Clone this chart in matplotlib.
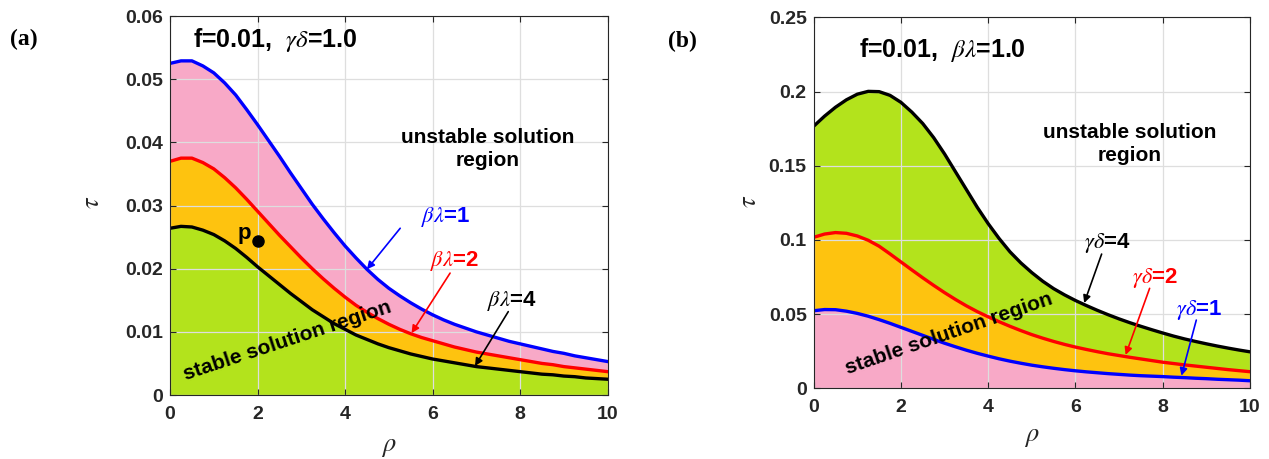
import matplotlib
matplotlib.use("Agg")
import matplotlib.pyplot as plt

plt.rcParams["font.family"] = ["Liberation Sans", "DejaVu Sans"]
plt.rcParams["mathtext.fontset"] = "stix"

# ---- data -------------------------------------------------------------
rho = [0.00, 0.25, 0.50, 0.75, 1.00, 1.25, 1.50, 1.75, 2.00, 2.25,
       2.50, 2.75, 3.00, 3.25, 3.50, 3.75, 4.00, 4.25, 4.50, 4.75,
       5.00, 5.25, 5.50, 5.75, 6.00, 6.25, 6.50, 6.75, 7.00, 7.25,
       7.50, 7.75, 8.00, 8.25, 8.50, 8.75, 9.00, 9.25, 9.50, 9.75, 10.00]

# panel (a): f=0.01, gamma*delta=1.0, varying beta*lambda
tau_a_bl1 = [0.0525, 0.0529, 0.0529, 0.0521, 0.0510, 0.0494, 0.0475, 0.0452,
             0.0428, 0.0403, 0.0378, 0.0352, 0.0327, 0.0302, 0.0279, 0.0257,
             0.0236, 0.0217, 0.0199, 0.0183, 0.0169, 0.0157, 0.0146, 0.0136,
             0.0127, 0.0119, 0.0112, 0.0106, 0.0100, 0.0095, 0.0090, 0.0085,
             0.0081, 0.0077, 0.0073, 0.0069, 0.0066, 0.0062, 0.0059, 0.0056,
             0.0053]
tau_a_bl2 = [0.0370, 0.0375, 0.0375, 0.0368, 0.0358, 0.0344, 0.0328, 0.0310,
             0.0291, 0.0272, 0.0253, 0.0235, 0.0217, 0.0200, 0.0184, 0.0169,
             0.0155, 0.0142, 0.0131, 0.0121, 0.0112, 0.0104, 0.0097, 0.0091,
             0.0086, 0.0081, 0.0076, 0.0072, 0.0068, 0.0065, 0.0062, 0.0059,
             0.0056, 0.0053, 0.0050, 0.0048, 0.0045, 0.0043, 0.0041, 0.0039,
             0.0037]
tau_a_bl4 = [0.0264, 0.0267, 0.0266, 0.0261, 0.0254, 0.0244, 0.0232, 0.0218,
             0.0203, 0.0189, 0.0175, 0.0161, 0.0148, 0.0135, 0.0124, 0.0113,
             0.0104, 0.0095, 0.0088, 0.0081, 0.0075, 0.0070, 0.0065, 0.0061,
             0.0057, 0.0054, 0.0051, 0.0048, 0.0045, 0.0043, 0.0041, 0.0039,
             0.0037, 0.0035, 0.0033, 0.0032, 0.0030, 0.0029, 0.0027, 0.0026,
             0.0025]

# panel (b): f=0.01, beta*lambda=1.0, varying gamma*delta
tau_b_gd1 = [0.0523, 0.0531, 0.0530, 0.0520, 0.0505, 0.0486, 0.0463, 0.0438,
             0.0411, 0.0384, 0.0357, 0.0330, 0.0304, 0.0280, 0.0257, 0.0236,
             0.0217, 0.0199, 0.0183, 0.0169, 0.0156, 0.0145, 0.0135, 0.0126,
             0.0118, 0.0111, 0.0105, 0.0099, 0.0094, 0.0089, 0.0085, 0.0082,
             0.0079, 0.0075, 0.0072, 0.0068, 0.0065, 0.0061, 0.0058, 0.0055,
             0.0051]
tau_b_gd2 = [0.1018, 0.1040, 0.1050, 0.1045, 0.1027, 0.0998, 0.0958, 0.0906,
             0.0852, 0.0798, 0.0745, 0.0694, 0.0645, 0.0599, 0.0556, 0.0517,
             0.0482, 0.0449, 0.0418, 0.0389, 0.0362, 0.0338, 0.0316, 0.0296,
             0.0278, 0.0262, 0.0247, 0.0233, 0.0221, 0.0209, 0.0198, 0.0187,
             0.0176, 0.0167, 0.0158, 0.0150, 0.0142, 0.0134, 0.0126, 0.0119,
             0.0112]
tau_b_gd4 = [0.1767, 0.1835, 0.1895, 0.1945, 0.1983, 0.2002, 0.2000, 0.1975,
             0.1928, 0.1862, 0.1785, 0.1690, 0.1580, 0.1460, 0.1340, 0.1220,
             0.1110, 0.1010, 0.0920, 0.0845, 0.0780, 0.0722, 0.0672, 0.0630,
             0.0592, 0.0558, 0.0526, 0.0496, 0.0468, 0.0442, 0.0418, 0.0395,
             0.0373, 0.0352, 0.0333, 0.0316, 0.0300, 0.0285, 0.0271, 0.0258,
             0.0246]

point_p = (2.0, 0.0244)

# ---- style ------------------------------------------------------------
GREEN = "#b3e31c"
ORANGE = "#fec30f"
PINK = "#f8a9c7"
BLUE = "#0000ff"
RED = "#ff0000"
BLACK = "#000000"
TXT = "#262626"
LW = 2.4

fig = plt.figure(figsize=(12.69, 4.59), dpi=100)
axa = fig.add_axes([0.1340, 0.1394, 0.3448, 0.8257])
axb = fig.add_axes([0.6412, 0.1540, 0.3438, 0.8079])


def style_axes(ax, ymax, ystep, yticklabels):
    ax.set_xlim(0, 10)
    ax.set_ylim(0, ymax)
    ax.set_xticks(range(0, 11, 2))
    yt = [i * ystep for i in range(len(yticklabels))]
    ax.set_yticks(yt)
    ax.set_yticklabels(yticklabels)
    ax.grid(True, color="#dedede", lw=0.9)
    ax.set_axisbelow(False)
    for g in ax.get_xgridlines() + ax.get_ygridlines():
        g.set_zorder(2)
    ax.tick_params(direction="in", length=4, width=0.8, colors=TXT,
                   top=True, right=True, labelsize=14)
    ax.tick_params(axis="x", pad=8)
    ax.tick_params(axis="y", pad=5)
    for lab in ax.get_xticklabels() + ax.get_yticklabels():
        lab.set_fontweight("bold")
    for s in ax.spines.values():
        s.set_color(TXT)
        s.set_linewidth(0.8)
        s.set_zorder(6)


def arrow(ax, text, xy, xytext, color, tail):
    ax.annotate("", xy=xy, xytext=tail,
                arrowprops=dict(arrowstyle="-|>", color=color, lw=1.2,
                                mutation_scale=11, shrinkA=0, shrinkB=0),
                zorder=7)
    ax.text(xytext[0], xytext[1], text, color=color, fontsize=16,
            fontweight="bold", ha="center", va="center", zorder=7)


def region_labels(ax, top_xy, dy, stable_xy, angle):
    ax.text(top_xy[0], top_xy[1], "unstable solution", fontsize=15,
            fontweight="bold", ha="center", va="center", zorder=7)
    ax.text(top_xy[0], top_xy[1] - dy, "region", fontsize=15,
            fontweight="bold", ha="center", va="center", zorder=7)
    ax.text(stable_xy[0], stable_xy[1], "stable solution region", fontsize=15,
            fontweight="bold", ha="center", va="center", rotation=angle,
            rotation_mode="anchor", zorder=7)


# ---- panel (a) --------------------------------------------------------
axa.fill_between(rho, 0, tau_a_bl4, color=GREEN, lw=0, zorder=1)
axa.fill_between(rho, tau_a_bl4, tau_a_bl2, color=ORANGE, lw=0, zorder=1)
axa.fill_between(rho, tau_a_bl2, tau_a_bl1, color=PINK, lw=0, zorder=1)
axa.plot(rho, tau_a_bl1, color=BLUE, lw=LW, zorder=4)
axa.plot(rho, tau_a_bl2, color=RED, lw=LW, zorder=4)
axa.plot(rho, tau_a_bl4, color=BLACK, lw=LW, zorder=4)
style_axes(axa, 0.06, 0.01, ["0", "0.01", "0.02", "0.03", "0.04", "0.05", "0.06"])

axa.plot(*point_p, "o", color="black", ms=8, zorder=5)
axa.text(1.70, 0.0256, "p", fontsize=16, fontweight="bold", ha="center",
         va="center", zorder=7)

axa.text(0.52, 0.0562, r"f=0.01,  $\gamma\delta$=1.0", fontsize=18,
         fontweight="bold", ha="left", va="center", zorder=7)
region_labels(axa, (7.25, 0.0408), 0.0037, (2.69, 0.0086), 18.3)

arrow(axa, r"$\beta\lambda$=1", (4.5, 0.0199), (6.3, 0.0282), BLUE, (5.26, 0.0264))
arrow(axa, r"$\beta\lambda$=2", (5.52, 0.0098), (6.5, 0.0212), RED, (6.4, 0.0193))
arrow(axa, r"$\beta\lambda$=4", (6.97, 0.0046), (7.82, 0.0149), BLACK, (7.73, 0.0132))

axa.set_xlabel(r"$\rho$", fontsize=19, color=TXT)
axa.set_ylabel(r"$\tau$", fontsize=19, color=TXT)
axa.xaxis.set_label_coords(0.50, -0.137)
axa.yaxis.set_label_coords(-0.178, 0.507)
axa.xaxis.label.set_va("center")
axa.yaxis.label.set_va("center")

# ---- panel (b) --------------------------------------------------------
axb.fill_between(rho, 0, tau_b_gd1, color=PINK, lw=0, zorder=1)
axb.fill_between(rho, tau_b_gd1, tau_b_gd2, color=ORANGE, lw=0, zorder=1)
axb.fill_between(rho, tau_b_gd2, tau_b_gd4, color=GREEN, lw=0, zorder=1)
axb.plot(rho, tau_b_gd1, color=BLUE, lw=LW, zorder=4)
axb.plot(rho, tau_b_gd2, color=RED, lw=LW, zorder=4)
axb.plot(rho, tau_b_gd4, color=BLACK, lw=LW, zorder=4)
style_axes(axb, 0.25, 0.05, ["0", "0.05", "0.1", "0.15", "0.2", "0.25"])

axb.text(1.05, 0.228, r"f=0.01,  $\beta\lambda$=1.0", fontsize=18,
         fontweight="bold", ha="left", va="center", zorder=7)
region_labels(axb, (7.25, 0.1727), 0.0160, (3.1, 0.037), 18.9)

arrow(axb, r"$\gamma\delta$=4", (6.2, 0.0575), (6.72, 0.0977), BLACK, (6.6, 0.0905))
arrow(axb, r"$\gamma\delta$=2", (7.15, 0.0225), (7.83, 0.0741), RED, (7.7, 0.0674))
arrow(axb, r"$\gamma\delta$=1", (8.43, 0.0085), (8.83, 0.0528), BLUE, (8.77, 0.046))

axb.set_xlabel(r"$\rho$", fontsize=19, color=TXT)
axb.set_ylabel(r"$\tau$", fontsize=19, color=TXT)
axb.xaxis.set_label_coords(0.50, -0.131)
axb.yaxis.set_label_coords(-0.148, 0.503)
axb.xaxis.label.set_va("center")
axb.yaxis.label.set_va("center")

# ---- panel tags -------------------------------------------------------
fig.text(24 / 1269, 1 - 39 / 459, "(a)", fontsize=17, fontweight="bold",
         family=["Liberation Serif", "DejaVu Serif"], ha="center", va="center")
fig.text(682 / 1269, 1 - 41 / 459, "(b)", fontsize=17, fontweight="bold",
         family=["Liberation Serif", "DejaVu Serif"], ha="center", va="center")

fig.savefig("out.png", dpi=100, facecolor="white")
